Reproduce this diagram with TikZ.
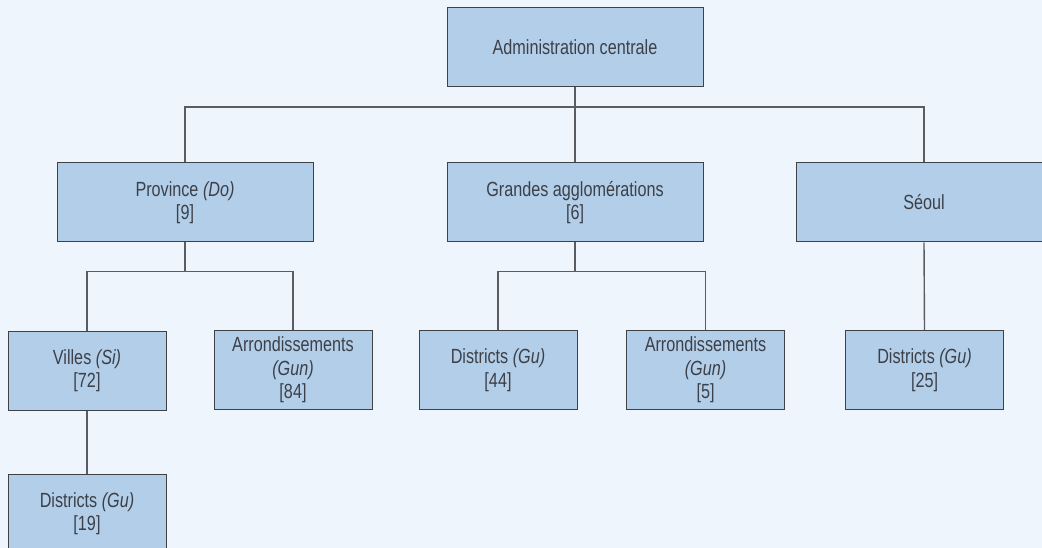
\documentclass[tikz,border=0pt]{standalone}
\usepackage{fontspec}
\setmainfont{Liberation Sans}[FakeStretch=0.79]
\usetikzlibrary{calc}

\definecolor{pagebg}{HTML}{EEF5FD}
\definecolor{boxfill}{HTML}{B3CEE8}
\definecolor{boxline}{HTML}{3E4146}
\definecolor{linkline}{HTML}{5A5C60}
\definecolor{labeltext}{HTML}{3C4048}

\tikzset{
  unit/.style={draw=boxline, line width=1pt, fill=boxfill, text=labeltext,
    align=center, inner sep=0pt, minimum height=79pt,
    font=\fontsize{20.5}{23.5}\selectfont},
  bigunit/.style={unit, minimum width=256pt},
  smallunit/.style={unit, minimum width=158pt},
  link/.style={draw=linkline, line width=1.4pt}
}

\begin{document}
\begin{tikzpicture}[x=1pt, y=-1pt]

				% --- Page ---
				\clip (0,0) rectangle (1042,548);
				\fill[pagebg] (0,0) rectangle (1042,548);
				
				% --- Rails ---
				\coordinate (railA) at (0,107);
				\coordinate (railB) at (0,271.5);
				
				% --- Top level ---
				\node[bigunit] (admin) at (575,47.5) {Administration centrale};
				
				% --- Second level ---
				\node[bigunit] (prov)  at (185,202.5) {Province \textit{(Do)}\\{}[9]};
				\node[bigunit] (grand) at (575,202.5) {Grandes agglomérations\\{}[6]};
				\node[bigunit] (seoul) at (924,202.5) {Séoul};
				
				% --- Third level ---
				\node[smallunit] (villes) at (87,370.5)   {Villes \textit{(Si)}\\{}[72]};
				\node[smallunit] (arrP)   at (293,370)    {Arrondissements\\\textit{(Gun)}\\{}[84]};
				\node[smallunit] (distG)  at (498,370)    {Districts \textit{(Gu)}\\{}[44]};
				\node[smallunit] (arrG)   at (705.5,370)  {Arrondissements\\\textit{(Gun)}\\{}[5]};
				\node[smallunit] (distS)  at (924.5,370)  {Districts \textit{(Gu)}\\{}[25]};
				
				% --- Fourth level ---
				\node[smallunit] (distV) at (87,513.5) {Districts \textit{(Gu)}\\{}[19]};
				
				% --- Connectors ---
				\draw[link] (admin.south) -- (admin.south |- railA);
				\draw[link] (prov.north) -- (prov.north |- railA) -| (seoul.north);
				\draw[link] (grand.north) -- (grand.north |- railA);
				
				\draw[link] (prov.south) -- (prov.south |- railB);
				\draw[link] (villes.north) -- (villes.north |- railB) -| (arrP.north);
				\draw[link] (grand.south) -- (grand.south |- railB);
				\draw[link] (distG.north) -- (distG.north |- railB) -| (arrG.north);
				
				\draw[link] (seoul.south) -- (distS.north);
				\draw[link] (villes.south) -- (distV.north);
				
\end{tikzpicture}
\end{document}
